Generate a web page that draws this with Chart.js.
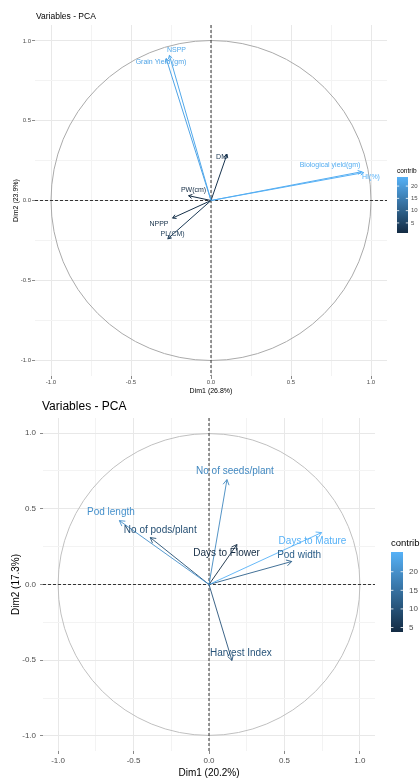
<!DOCTYPE html>
<html>
<head>
<meta charset="utf-8">
<script src="https://cdn.jsdelivr.net/npm/chart.js@4.4.1/dist/chart.umd.min.js"></script>
<style>
  html, body { margin: 0; padding: 0; background: #fff; }
  canvas { display: block; }
</style>
</head>
<body>
<canvas id="pcaTop" width="420" height="396"></canvas>
<canvas id="pcaBottom" width="420" height="382"></canvas>
<script>
// ---- top plot (Dim1 26.8%, Dim2 23.9%) ----
const topVars = ["NSPP", "Grain Yield (gm)", "DM", "Biological yield(gm)", "HI(%)", "PW(cm)", "NPPP", "PL(CM)"];
const topDim1 = [-0.26, -0.28, 0.10, 0.94, 0.955, -0.14, -0.24, -0.27];
const topDim2 = [0.91, 0.89, 0.29, 0.18, 0.175, 0.03, -0.11, -0.24];
const topContrib = [22.1, 21.5, 2.3, 23.0, 23.7, 0.9, 1.7, 3.2];
// where the (repelled) text labels sit, in Dim units
const topLabelX = [-0.216, -0.3125, 0.066, 0.744, 1.0, -0.109, -0.325, -0.24];
const topLabelY = [0.944, 0.869, 0.275, 0.219, 0.15, 0.0625, -0.15, -0.2125];

// ---- bottom plot (Dim1 20.2%, Dim2 17.3%) ----
const botVars = ["No of seeds/plant", "Pod length", "No of pods/plant", "Days to Flower", "Days to Mature", "Pod width", "Harvest Index"];
const botDim1 = [0.119, -0.594, -0.389, 0.185, 0.746, 0.548, 0.152];
const botDim2 = [0.693, 0.422, 0.310, 0.264, 0.343, 0.152, -0.502];
const botContrib = [18.7, 20.0, 9.5, 3.8, 25.3, 12.4, 10.4];
const botLabelX = [0.172, -0.65, -0.323, 0.116, 0.686, 0.597, 0.211];
const botLabelY = [0.746, 0.475, 0.356, 0.205, 0.284, 0.191, -0.455];

const gridTicks = [-1, -0.75, -0.5, -0.25, 0, 0.25, 0.5, 0.75, 1];
const majorTicks = [-1, -0.5, 0, 0.5, 1];
const legendTicks = [5, 10, 15, 20];

const FONT = "'Liberation Sans', Arial, sans-serif";
const lowCol = [19, 43, 67];     // #132B43
const highCol = [86, 177, 247];  // #56B1F7

function contribColor(v, min, max) {
  const t = (v - min) / (max - min);
  const c = lowCol.map((l, i) => Math.round(l + (highCol[i] - l) * t));
  return "rgb(" + c.join(",") + ")";
}

function buildDatasets(vars, d1, d2, contrib, lx, ly, width) {
  const min = Math.min(...contrib), max = Math.max(...contrib);
  return vars.map((name, i) => ({
    label: name,
    data: [{ x: 0, y: 0 }, { x: d1[i], y: d2[i] }],
    showLine: true,
    borderColor: contribColor(contrib[i], min, max),
    borderWidth: width,
    pointRadius: 0,
    labelX: lx[i],
    labelY: ly[i],
  }));
}

// circle, dashed zero lines, arrow heads, labels, title and colour bar
function pcaDecor(cfg) {
  return {
    id: "pcaDecor",
    beforeDatasetsDraw(chart) {
      const { ctx, chartArea: a, scales: { x, y } } = chart;
      const x0 = x.getPixelForValue(0), y0 = y.getPixelForValue(0);
      const r = x.getPixelForValue(1) - x0;
      ctx.save();
      ctx.strokeStyle = cfg.circleColor;
      ctx.lineWidth = 1;
      ctx.beginPath();
      ctx.arc(x0, y0, r, 0, Math.PI * 2);
      ctx.stroke();
      ctx.strokeStyle = "#333";
      ctx.setLineDash([3, 2]);
      ctx.beginPath();
      ctx.moveTo(a.left, y0); ctx.lineTo(a.right, y0);
      ctx.moveTo(x0, a.top); ctx.lineTo(x0, a.bottom);
      ctx.stroke();
      ctx.restore();
    },
    afterDatasetsDraw(chart) {
      const { ctx, scales: { x, y } } = chart;
      ctx.save();
      chart.data.datasets.forEach((ds, i) => {
        const pts = chart.getDatasetMeta(i).data;
        const p0 = pts[0], p1 = pts[1];
        const ang = Math.atan2(p1.y - p0.y, p1.x - p0.x);
        ctx.strokeStyle = ds.borderColor;
        ctx.lineWidth = ds.borderWidth;
        ctx.beginPath();
        ctx.moveTo(p1.x - cfg.head * Math.cos(ang - Math.PI / 6), p1.y - cfg.head * Math.sin(ang - Math.PI / 6));
        ctx.lineTo(p1.x, p1.y);
        ctx.lineTo(p1.x - cfg.head * Math.cos(ang + Math.PI / 6), p1.y - cfg.head * Math.sin(ang + Math.PI / 6));
        ctx.stroke();
      });
      ctx.font = cfg.labelSize + "px " + FONT;
      ctx.textAlign = "center";
      ctx.textBaseline = "middle";
      chart.data.datasets.forEach((ds) => {
        ctx.fillStyle = ds.borderColor;
        ctx.fillText(ds.label, x.getPixelForValue(ds.labelX), y.getPixelForValue(ds.labelY));
      });
      ctx.restore();
    },
    afterDraw(chart) {
      const ctx = chart.ctx;
      const lg = cfg.legend;
      ctx.save();
      // title
      ctx.fillStyle = "#000";
      ctx.font = cfg.titleSize + "px " + FONT;
      ctx.textAlign = "left";
      ctx.textBaseline = "middle";
      ctx.fillText("Variables - PCA", cfg.titleX, cfg.titleY);
      // colour bar
      const min = Math.min(...cfg.contrib), max = Math.max(...cfg.contrib);
      ctx.font = lg.titleSize + "px " + FONT;
      ctx.fillText("contrib", lg.x, lg.titleY);
      const g = ctx.createLinearGradient(0, lg.y + lg.h, 0, lg.y);
      for (let k = 0; k <= 10; k++) {
        g.addColorStop(k / 10, contribColor(min + (max - min) * k / 10, min, max));
      }
      ctx.fillStyle = g;
      ctx.fillRect(lg.x, lg.y, lg.w, lg.h);
      ctx.font = lg.tickSize + "px " + FONT;
      ctx.strokeStyle = "rgba(255,255,255,0.8)";
      ctx.lineWidth = 1;
      legendTicks.forEach((v) => {
        const ty = lg.y + lg.h - (v - min) / (max - min) * lg.h;
        ctx.beginPath();
        ctx.moveTo(lg.x, ty); ctx.lineTo(lg.x + lg.w / 5, ty);
        ctx.moveTo(lg.x + lg.w, ty); ctx.lineTo(lg.x + lg.w - lg.w / 5, ty);
        ctx.stroke();
        ctx.fillStyle = "#4d4d4d";
        ctx.fillText(String(v), lg.x + lg.w + lg.gap, ty);
      });
      ctx.restore();
    },
  };
}

function pcaAxis(cfg, isX) {
  return {
    type: "linear",
    min: -1.1,
    max: 1.1,
    afterBuildTicks: (s) => { s.ticks = gridTicks.map((v) => ({ value: v })); },
    afterFit: (s) => { if (isX) s.height = cfg.xAxisH; else s.width = cfg.yAxisW; },
    border: { display: false },
    grid: {
      color: (c) => majorTicks.includes(c.tick.value) ? "#e8e8e8" : "#f3f3f3",
      lineWidth: 1,
      tickLength: 3,
      tickColor: (c) => majorTicks.includes(c.tick.value) ? "#8a8a8a" : "rgba(0,0,0,0)",
    },
    ticks: {
      autoSkip: false,
      maxRotation: 0,
      padding: isX ? cfg.xTickPad : cfg.yTickPad,
      color: "#4d4d4d",
      font: { family: FONT, size: cfg.tickSize },
      callback: (v) => majorTicks.includes(v) ? v.toFixed(1) : "",
    },
    title: {
      display: true,
      text: isX ? cfg.xTitle : cfg.yTitle,
      color: "#000",
      font: { family: FONT, size: cfg.axisTitleSize, lineHeight: 1 },
      padding: isX ? cfg.xTitlePad : cfg.yTitlePad,
    },
  };
}

function pcaChart(id, cfg, datasets) {
  return new Chart(document.getElementById(id), {
    type: "scatter",
    data: { datasets: datasets },
    options: {
      responsive: false,
      animation: false,
      events: [],
      layout: { padding: { left: 0, top: cfg.padTop, right: cfg.padRight, bottom: 0 } },
      scales: { x: pcaAxis(cfg, true), y: pcaAxis(cfg, false) },
      plugins: { legend: { display: false }, tooltip: { enabled: false } },
    },
    plugins: [pcaDecor(cfg)],
  });
}

const topCfg = {
  padTop: 25, padRight: 33, yAxisW: 35, xAxisH: 20,
  tickSize: 6, xTickPad: 0, yTickPad: 1,
  axisTitleSize: 7, xTitlePad: 1.5, yTitlePad: 12.5,
  xTitle: "Dim1 (26.8%)", yTitle: "Dim2 (23.9%)",
  titleX: 36, titleY: 17, titleSize: 8.5,
  labelSize: 7, head: 4, circleColor: "#aaaaaa",
  contrib: topContrib,
  legend: { x: 397, y: 177, w: 11, h: 56, titleY: 171, titleSize: 6.5, tickSize: 6, gap: 3 },
};

const botCfg = {
  padTop: 22, padRight: 45, yAxisW: 43, xAxisH: 27,
  tickSize: 8, xTickPad: 2, yTickPad: 4,
  axisTitleSize: 10, xTitlePad: 0, yTitlePad: 11,
  xTitle: "Dim1 (20.2%)", yTitle: "Dim2 (17.3%)",
  titleX: 42, titleY: 11, titleSize: 12,
  labelSize: 10, head: 6, circleColor: "#c0c0c0",
  contrib: botContrib,
  legend: { x: 391, y: 156, w: 12, h: 80, titleY: 147, titleSize: 9.5, tickSize: 8, gap: 6 },
};

pcaChart("pcaTop", topCfg, buildDatasets(topVars, topDim1, topDim2, topContrib, topLabelX, topLabelY, 1));
pcaChart("pcaBottom", botCfg, buildDatasets(botVars, botDim1, botDim2, botContrib, botLabelX, botLabelY, 0.9));
</script>
</body>
</html>
